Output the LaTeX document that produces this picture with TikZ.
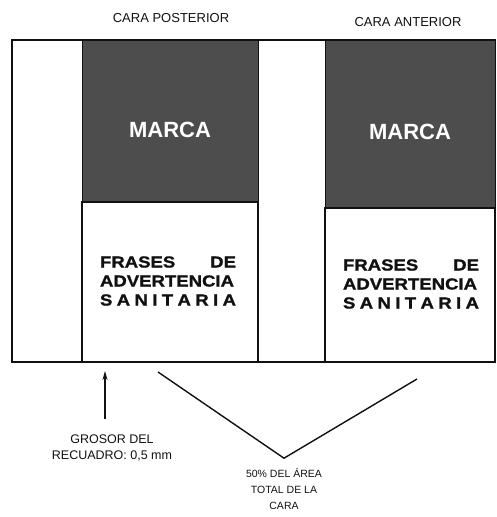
\documentclass[tikz,border=0pt]{standalone}
\usepackage{fontspec}
\setmainfont{Liberation Sans}
\newfontfamily\warnfont[FakeStretch=1.16,FakeBold=1.2]{Liberation Sans Bold}
\usetikzlibrary{arrows.meta,positioning}
\definecolor{ink}{HTML}{111111}
\definecolor{brand}{HTML}{4D4D4D}
\tikzset{
  frame/.style={draw=ink,line width=1.2pt},
  markbox/.style={draw=ink,fill=brand,line width=1pt,inner sep=0pt},
  warnbox/.style={draw=ink,fill=white,line width=1.2pt,inner sep=0pt},
  marktxt/.style={text=white,inner sep=0pt,font=\fontsize{22}{24}\selectfont\bfseries},
  warntxt/.style={text=ink,inner sep=0pt,align=center,font=\fontsize{16}{19}\warnfont},
  title/.style={font=\fontsize{13}{15}\selectfont,text=ink,inner sep=0pt},
  note/.style={font=\fontsize{12.5}{16}\selectfont,align=center,text=ink,inner sep=0pt},
  pedge/.style={-{Stealth[length=9pt,width=5pt]},line width=1.1pt,color=ink},
  vedge/.style={line width=1.4pt,color=ink},
}
\newcommand{\warnlines}{%
  \makebox[136pt][s]{FRASES\hfill DE}\\
  \makebox[136pt][s]{ADVERTENCIA}\\
  \makebox[136pt][s]{S\hfill A\hfill N\hfill I\hfill T\hfill A\hfill R\hfill I\hfill A}}

\begin{document}
\begin{tikzpicture}[x=1pt,y=-1pt]
  \useasboundingbox (0,0) rectangle (497,517);
  % outer frame
  \draw[frame] (12,40) rectangle (495,362);
  % back face
  \node[markbox,minimum width=176pt,minimum height=162pt] (mpost) at (170,121) {};
  \node[warnbox,minimum width=176pt,minimum height=160pt] (wpost) at (170,282) {};
  \node[marktxt] (tpost) at (170,130) {MARCA};
  \node[warntxt] (fpost) at (168,281) {\warnlines};
  % front face
  \node[markbox,minimum width=170pt,minimum height=168pt] (mant) at (410,124) {};
  \node[warnbox,minimum width=170pt,minimum height=154pt] (want) at (410,285) {};
  \node[marktxt] (tant) at (410,132) {MARCA};
  \node[warntxt] (fant) at (411,284) {\warnlines};
  % titles
  \node[title] (cpost) at (171,18) {CARA POSTERIOR};
  \node[title] (cant) at (408,22) {CARA ANTERIOR};
  % border thickness
  \coordinate (gtip) at (105,371);
  \node[note] (gros) at (112,448) {GROSOR DEL\\RECUADRO: 0,5 mm};
  \draw[pedge] ([yshift=16pt]gros.north -| gtip) -- (gtip);
  % half area
  \coordinate (vl) at (158,372); \coordinate (vr) at (417,379);
  \node[note,font=\fontsize{10.5}{16}\selectfont] (area) at (284,489) {50\% DEL ÁREA\\TOTAL DE LA\\CARA};
  \coordinate[above=10pt of area] (vtx);
  \draw[vedge] (vl) -- (vtx) -- (vr);
\end{tikzpicture}
\end{document}
